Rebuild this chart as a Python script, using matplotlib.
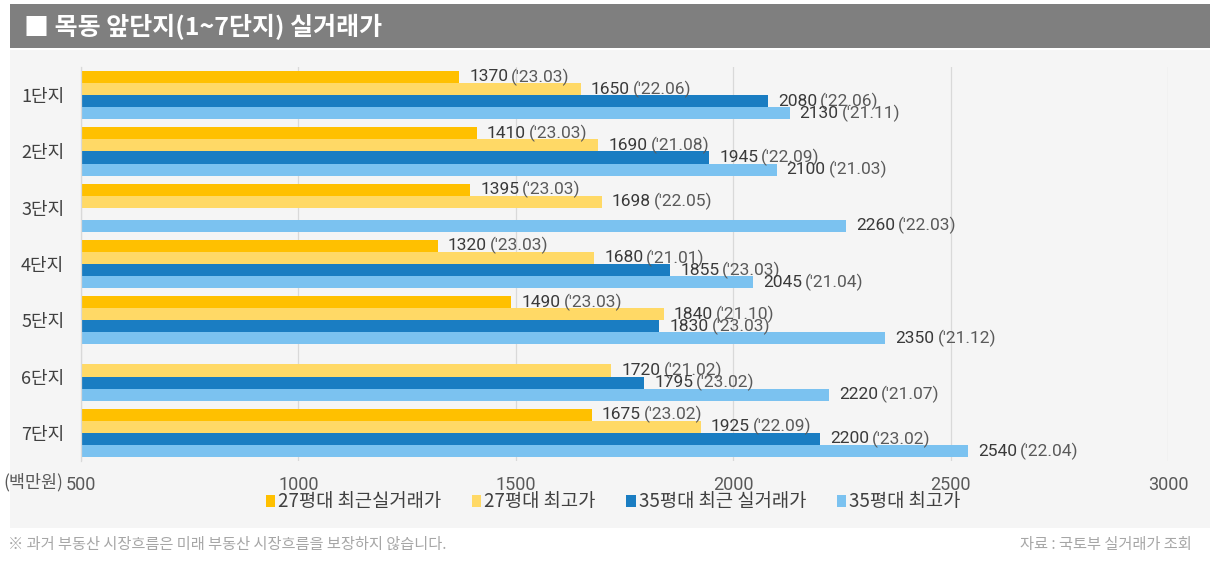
import matplotlib
matplotlib.use('Agg')
import matplotlib.pyplot as plt
from matplotlib.patches import Rectangle
import numpy as np

plt.rcParams['font.family'] = ['Noto Sans CJK KR', 'DejaVu Sans']

categories = ['1단지', '2단지', '3단지', '4단지', '5단지', '6단지', '7단지']
series_names = ['27평대 최근실거래가', '27평대 최고가', '35평대 최근 실거래가', '35평대 최고가']
recent27 = [1370, 1410, 1395, 1320, 1490, None, 1675]
recent27_dates = ["'23.03", "'23.03", "'23.03", "'23.03", "'23.03", None, "'23.02"]
max27 = [1650, 1690, 1698, 1680, 1840, 1720, 1925]
max27_dates = ["'22.06", "'21.08", "'22.05", "'21.01", "'21.10", "'21.02", "'22.09"]
recent35 = [2080, 1945, None, 1855, 1830, 1795, 2200]
recent35_dates = ["'22.06", "'22.09", None, "'23.03", "'23.03", "'23.02", "'23.02"]
max35 = [2130, 2100, 2260, 2045, 2350, 2220, 2540]
max35_dates = ["'21.11", "'21.03", "'22.03", "'21.04", "'21.12", "'21.07", "'22.04"]
xticks = [500, 1000, 1500, 2000, 2500, 3000]

colors = ['#FFC000', '#FFD966', '#1A7DC2', '#7BC2F0']
values = [recent27, max27, recent35, max35]
dates = [recent27_dates, max27_dates, recent35_dates, max35_dates]

W, H = 1215, 562
fig = plt.figure(figsize=(W / 100, H / 100), dpi=100)
fig.patch.set_facecolor('white')

def fx(px):
    return px / W

def fy(py):
    return 1 - py / H

# background panels
fig.add_artist(Rectangle((fx(10), fy(48)), fx(1200), 44 / H, transform=fig.transFigure,
                         facecolor='#7F7F7F', edgecolor='none', zorder=-10))
fig.add_artist(Rectangle((fx(10), fy(528)), fx(1200), 478 / H, transform=fig.transFigure,
                         facecolor='#F5F5F5', edgecolor='none', zorder=-10))

fig.text(fx(24), fy(27), '■ 목동 앞단지(1~7단지) 실거래가', color='white', fontsize=18,
         fontweight='bold', va='center', ha='left')

ax = fig.add_axes([fx(81), fy(461), fx(1168) - fx(81), (461 - 67) / H])
ax.set_facecolor('none')
ax.set_zorder(1)

n = len(categories)
y = np.arange(n)
h = 0.215
handles = []
for i in range(4):
    off = (i - 1.5) * h
    ys = [y[j] + off for j in range(n) if values[i][j] is not None]
    vs = [values[i][j] - 500 for j in range(n) if values[i][j] is not None]
    b = ax.barh(ys, vs, left=500, height=h, color=colors[i], edgecolor='none', zorder=2,
                label=series_names[i])
    handles.append(b)
    for j in range(n):
        v = values[i][j]
        if v is None:
            continue
        t = ax.annotate(f'{v}', xy=(v, y[j] + off), xytext=(10, 0), textcoords='offset pixels',
                        va='center', ha='left', fontsize=12.5, color='#3A3A3A',
                        family=['Roboto', 'DejaVu Sans'], zorder=3)
        ax.annotate(f'({dates[i][j]})', xy=(1, 0.5), xycoords=t, xytext=(3, 0),
                    textcoords='offset pixels', va='center', ha='left', fontsize=12.5,
                    color='#5A5A5A', family=['Roboto', 'DejaVu Sans'], zorder=3)

ax.set_xlim(500, 3000)
ax.set_ylim(n - 0.5, -0.5)
ax.set_xticks(xticks)
ax.set_xticklabels([str(t) for t in xticks], family=['Roboto', 'DejaVu Sans'],
                   fontsize=13, color='#595959')
ax.set_yticks(y)
ax.set_yticklabels(categories, fontsize=13, color='#404040')
ax.tick_params(axis='both', length=0)
ax.tick_params(axis='x', pad=11)
ax.tick_params(axis='y', pad=12)
ax.grid(axis='x', color='#D9D9D9', linewidth=0.9, zorder=0)
ax.set_axisbelow(True)
for s in ['top', 'right', 'bottom']:
    ax.spines[s].set_visible(False)
ax.spines['left'].set_color('#D9D9D9')
ax.spines['left'].set_linewidth(0.9)

fig.text(fx(63), fy(482), '(백만원)', fontsize=12.5, color='#595959', ha='right', va='center')

fig.legend(handles=handles, labels=series_names, loc='center', ncol=4,
           bbox_to_anchor=(fx(613), fy(502)), frameon=False, fontsize=13.5,
           handlelength=0.5, handleheight=0.55, handletextpad=0.15, columnspacing=1.65,
           labelcolor='#404040')

fig.text(fx(8), fy(544), '※ 과거 부동산 시장흐름은 미래 부동산 시장흐름을 보장하지 않습니다.',
         fontsize=11, color='#A6A6A6', ha='left', va='center')
fig.text(fx(1192), fy(544), '자료 : 국토부 실거래가 조회', fontsize=11, color='#A6A6A6',
         ha='right', va='center')

fig.savefig('out.png', dpi=100, facecolor='white')
